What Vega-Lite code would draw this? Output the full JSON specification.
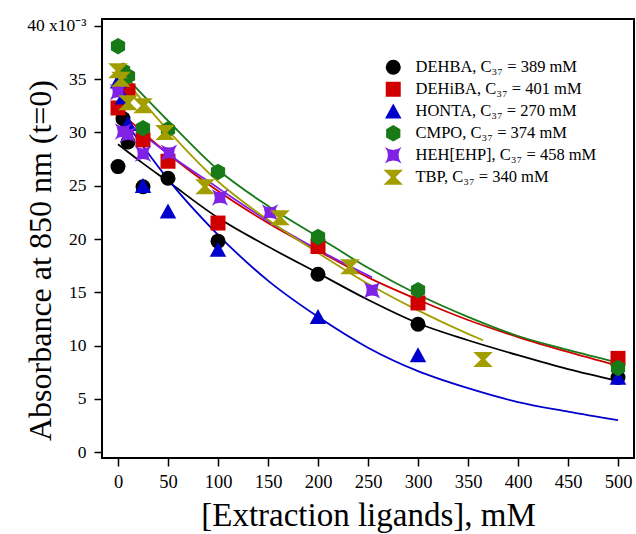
{
  "$schema": "https://vega.github.io/schema/vega-lite/v6.json",
  "autosize": {"type": "none"},
  "width": 532,
  "height": 439,
  "padding": {"left": 102, "top": 19, "right": 2, "bottom": 76},
  "background": "white",
  "config": {
    "view": {"stroke": "black", "strokeWidth": 2},
    "font": "Liberation Serif",
    "line": {"strokeWidth": 1.8, "interpolate": "monotone", "clip": true},
    "axis": {"grid": false, "domain": false, "tickColor": "black", "tickWidth": 1.5, "tickSize": 8, "labelColor": "black", "titleColor": "black", "labelFont": "Liberation Serif", "titleFont": "Liberation Serif", "titleFontWeight": "normal"}
  },
  "datasets": {
    "pts": [
      {"ligand": "DEHBA", "x": 0, "y": 26.8},
      {"ligand": "DEHBA", "x": 5, "y": 31.3},
      {"ligand": "DEHBA", "x": 10, "y": 29.1},
      {"ligand": "DEHBA", "x": 25, "y": 24.9},
      {"ligand": "DEHBA", "x": 50, "y": 25.7},
      {"ligand": "DEHBA", "x": 100, "y": 19.8},
      {"ligand": "DEHBA", "x": 200, "y": 16.7},
      {"ligand": "DEHBA", "x": 300, "y": 12.0},
      {"ligand": "DEHBA", "x": 500, "y": 7.0},
      {"ligand": "DEHiBA", "x": 0, "y": 32.3},
      {"ligand": "DEHiBA", "x": 10, "y": 33.9},
      {"ligand": "DEHiBA", "x": 25, "y": 29.3},
      {"ligand": "DEHiBA", "x": 50, "y": 27.3},
      {"ligand": "DEHiBA", "x": 100, "y": 21.5},
      {"ligand": "DEHiBA", "x": 200, "y": 19.3},
      {"ligand": "DEHiBA", "x": 300, "y": 14.0},
      {"ligand": "DEHiBA", "x": 500, "y": 8.8},
      {"ligand": "HONTA", "x": 0, "y": 34.8},
      {"ligand": "HONTA", "x": 5, "y": 33.3},
      {"ligand": "HONTA", "x": 10, "y": 30.8},
      {"ligand": "HONTA", "x": 25, "y": 25.0},
      {"ligand": "HONTA", "x": 50, "y": 22.6},
      {"ligand": "HONTA", "x": 100, "y": 19.0},
      {"ligand": "HONTA", "x": 200, "y": 12.7},
      {"ligand": "HONTA", "x": 300, "y": 9.1},
      {"ligand": "HONTA", "x": 500, "y": 7.0},
      {"ligand": "CMPO", "x": 0, "y": 38.1},
      {"ligand": "CMPO", "x": 5, "y": 35.8},
      {"ligand": "CMPO", "x": 10, "y": 35.3},
      {"ligand": "CMPO", "x": 25, "y": 30.4},
      {"ligand": "CMPO", "x": 50, "y": 30.3},
      {"ligand": "CMPO", "x": 100, "y": 26.3},
      {"ligand": "CMPO", "x": 200, "y": 20.2},
      {"ligand": "CMPO", "x": 300, "y": 15.2},
      {"ligand": "CMPO", "x": 500, "y": 7.9},
      {"ligand": "HEH[EHP]", "x": 0, "y": 33.8},
      {"ligand": "HEH[EHP]", "x": 5, "y": 30.1},
      {"ligand": "HEH[EHP]", "x": 10, "y": 29.8},
      {"ligand": "HEH[EHP]", "x": 25, "y": 28.0},
      {"ligand": "HEH[EHP]", "x": 51, "y": 28.1},
      {"ligand": "HEH[EHP]", "x": 102, "y": 23.9},
      {"ligand": "HEH[EHP]", "x": 152, "y": 22.5},
      {"ligand": "HEH[EHP]", "x": 254, "y": 15.2},
      {"ligand": "TBP", "x": 0, "y": 35.8},
      {"ligand": "TBP", "x": 3, "y": 35.0},
      {"ligand": "TBP", "x": 10, "y": 32.8},
      {"ligand": "TBP", "x": 25, "y": 32.5},
      {"ligand": "TBP", "x": 47, "y": 30.0},
      {"ligand": "TBP", "x": 87, "y": 24.9},
      {"ligand": "TBP", "x": 162, "y": 22.0},
      {"ligand": "TBP", "x": 232, "y": 17.4},
      {"ligand": "TBP", "x": 365, "y": 8.7}
    ],
    "fits": [
      {"ligand": "DEHBA", "x": 0, "y": 28.9},
      {"ligand": "DEHBA", "x": 25, "y": 27.1},
      {"ligand": "DEHBA", "x": 50, "y": 25.4},
      {"ligand": "DEHBA", "x": 100, "y": 22.0},
      {"ligand": "DEHBA", "x": 150, "y": 19.3},
      {"ligand": "DEHBA", "x": 200, "y": 16.8},
      {"ligand": "DEHBA", "x": 250, "y": 14.3},
      {"ligand": "DEHBA", "x": 300, "y": 12.1},
      {"ligand": "DEHBA", "x": 350, "y": 10.5},
      {"ligand": "DEHBA", "x": 400, "y": 9.1},
      {"ligand": "DEHBA", "x": 450, "y": 7.8},
      {"ligand": "DEHBA", "x": 500, "y": 6.7},
      {"ligand": "DEHiBA", "x": 0, "y": 32.1},
      {"ligand": "DEHiBA", "x": 25, "y": 30.0},
      {"ligand": "DEHiBA", "x": 50, "y": 28.0},
      {"ligand": "DEHiBA", "x": 100, "y": 24.5},
      {"ligand": "DEHiBA", "x": 150, "y": 21.5},
      {"ligand": "DEHiBA", "x": 200, "y": 18.9},
      {"ligand": "DEHiBA", "x": 250, "y": 16.4},
      {"ligand": "DEHiBA", "x": 300, "y": 14.3},
      {"ligand": "DEHiBA", "x": 350, "y": 12.4},
      {"ligand": "DEHiBA", "x": 400, "y": 10.8},
      {"ligand": "DEHiBA", "x": 450, "y": 9.4},
      {"ligand": "DEHiBA", "x": 500, "y": 8.1},
      {"ligand": "HONTA", "x": 0, "y": 32.0},
      {"ligand": "HONTA", "x": 25, "y": 28.7},
      {"ligand": "HONTA", "x": 50, "y": 25.6},
      {"ligand": "HONTA", "x": 100, "y": 20.4},
      {"ligand": "HONTA", "x": 150, "y": 16.1},
      {"ligand": "HONTA", "x": 200, "y": 12.7},
      {"ligand": "HONTA", "x": 250, "y": 9.8},
      {"ligand": "HONTA", "x": 300, "y": 7.6},
      {"ligand": "HONTA", "x": 350, "y": 6.0},
      {"ligand": "HONTA", "x": 400, "y": 4.7},
      {"ligand": "HONTA", "x": 450, "y": 3.8},
      {"ligand": "HONTA", "x": 500, "y": 3.0},
      {"ligand": "CMPO", "x": 2, "y": 35.8},
      {"ligand": "CMPO", "x": 25, "y": 33.5},
      {"ligand": "CMPO", "x": 50, "y": 31.1},
      {"ligand": "CMPO", "x": 100, "y": 26.5},
      {"ligand": "CMPO", "x": 150, "y": 23.1},
      {"ligand": "CMPO", "x": 200, "y": 20.2},
      {"ligand": "CMPO", "x": 250, "y": 17.3},
      {"ligand": "CMPO", "x": 300, "y": 14.8},
      {"ligand": "CMPO", "x": 350, "y": 12.7},
      {"ligand": "CMPO", "x": 400, "y": 10.9},
      {"ligand": "CMPO", "x": 450, "y": 9.6},
      {"ligand": "CMPO", "x": 500, "y": 8.4},
      {"ligand": "HEH[EHP]", "x": 0, "y": 31.6},
      {"ligand": "HEH[EHP]", "x": 25, "y": 29.8},
      {"ligand": "HEH[EHP]", "x": 50, "y": 28.0},
      {"ligand": "HEH[EHP]", "x": 100, "y": 24.8},
      {"ligand": "HEH[EHP]", "x": 150, "y": 21.7},
      {"ligand": "HEH[EHP]", "x": 200, "y": 19.0},
      {"ligand": "HEH[EHP]", "x": 254, "y": 16.4},
      {"ligand": "TBP", "x": 0, "y": 35.8},
      {"ligand": "TBP", "x": 25, "y": 32.9},
      {"ligand": "TBP", "x": 50, "y": 30.2},
      {"ligand": "TBP", "x": 100, "y": 25.4},
      {"ligand": "TBP", "x": 150, "y": 21.8},
      {"ligand": "TBP", "x": 200, "y": 18.7},
      {"ligand": "TBP", "x": 250, "y": 15.8},
      {"ligand": "TBP", "x": 300, "y": 13.3},
      {"ligand": "TBP", "x": 350, "y": 11.1},
      {"ligand": "TBP", "x": 365, "y": 10.5}
    ]
  },
  "layer": [
    {
      "data": {"name": "fits"},
      "transform": [{"filter": "datum.ligand == 'DEHBA'"}],
      "mark": {"type": "line", "color": "#000000"},
      "encoding": {"x": {"field": "x", "type": "quantitative"}, "y": {"field": "y", "type": "quantitative"}}
    },
    {
      "data": {"name": "fits"},
      "transform": [{"filter": "datum.ligand == 'DEHiBA'"}],
      "mark": {"type": "line", "color": "#d00000"},
      "encoding": {"x": {"field": "x", "type": "quantitative"}, "y": {"field": "y", "type": "quantitative"}}
    },
    {
      "data": {"name": "fits"},
      "transform": [{"filter": "datum.ligand == 'HONTA'"}],
      "mark": {"type": "line", "color": "#0000cc"},
      "encoding": {"x": {"field": "x", "type": "quantitative"}, "y": {"field": "y", "type": "quantitative"}}
    },
    {
      "data": {"name": "fits"},
      "transform": [{"filter": "datum.ligand == 'CMPO'"}],
      "mark": {"type": "line", "color": "#177a17"},
      "encoding": {"x": {"field": "x", "type": "quantitative"}, "y": {"field": "y", "type": "quantitative"}}
    },
    {
      "data": {"name": "fits"},
      "transform": [{"filter": "datum.ligand == 'HEH[EHP]'"}],
      "mark": {"type": "line", "color": "#7f22e6"},
      "encoding": {"x": {"field": "x", "type": "quantitative"}, "y": {"field": "y", "type": "quantitative"}}
    },
    {
      "data": {"name": "fits"},
      "transform": [{"filter": "datum.ligand == 'TBP'"}],
      "mark": {"type": "line", "color": "#a39e00"},
      "encoding": {"x": {"field": "x", "type": "quantitative"}, "y": {"field": "y", "type": "quantitative"}}
    },
    {
      "data": {"name": "pts"},
      "mark": {"type": "point", "filled": true, "opacity": 1, "size": 225, "strokeWidth": 0, "clip": true},
      "encoding": {
        "x": {
          "field": "x", "type": "quantitative",
          "scale": {"domain": [-16, 516], "nice": false, "zero": false},
          "axis": {"values": [0, 50, 100, 150, 200, 250, 300, 350, 400, 450, 500], "labelFontSize": 18.5, "labelPadding": 6, "title": "[Extraction ligands], mM", "titleFontSize": 33, "titleX": 266, "titleY": 41, "titleAlign": "center", "titleBaseline": "top"}
        },
        "y": {
          "field": "y", "type": "quantitative",
          "scale": {"domain": [-0.55, 40.65], "nice": false, "zero": false},
          "axis": {"values": [0, 5, 10, 15, 20, 25, 30, 35, 40], "labelFontSize": 17.5, "labelPadding": 8, "labelExpr": "datum.value == 40 ? '40 x10⁻³' : datum.label", "title": "Absorbance at 850 nm (t=0)", "titleFontSize": 32, "titleX": -62, "titleY": 241, "titleAngle": -90, "titleAlign": "center", "titleBaseline": "middle"}
        },
        "color": {
          "field": "ligand", "type": "nominal",
          "scale": {"domain": ["DEHBA", "DEHiBA", "HONTA", "CMPO", "HEH[EHP]", "TBP"], "range": ["#000000", "#d00000", "#0000cc", "#177a17", "#7f22e6", "#a39e00"]},
          "legend": {
            "title": null, "orient": "none", "legendX": 283, "legendY": 40,
            "labelFont": "Liberation Serif", "labelFontSize": 16.5, "labelColor": "black", "labelLimit": 400,
            "symbolSize": 225, "symbolStrokeWidth": 0, "labelOffset": 14, "rowPadding": 5,
            "labelExpr": "{'DEHBA': 'DEHBA, C₃₇ = 389 mM', 'DEHiBA': 'DEHiBA, C₃₇ = 401 mM', 'HONTA': 'HONTA, C₃₇ = 270 mM', 'CMPO': 'CMPO, C₃₇ = 374 mM', 'HEH[EHP]': 'HEH[EHP], C₃₇ = 458 mM', 'TBP': 'TBP, C₃₇ = 340 mM'}[datum.label]"
          }
        },
        "shape": {
          "field": "ligand", "type": "nominal",
          "scale": {"domain": ["DEHBA", "DEHiBA", "HONTA", "CMPO", "HEH[EHP]", "TBP"], "range": ["circle", "square", "M0,-1.05L1.1,0.95L-1.1,0.95Z", "M0,-1.1L0.95,-0.55L0.95,0.55L0,1.1L-0.95,0.55L-0.95,-0.55Z", "M-1.1,-1.1Q0,-0.3,1.1,-1.1Q0.3,0,1.1,1.1Q0,0.3,-1.1,1.1Q-0.3,0,-1.1,-1.1Z", "M-1.3,-1L1.3,-1L0.3,0L1.3,1L-1.3,1L-0.3,0Z"]},
          "legend": {
            "title": null, "orient": "none", "legendX": 283, "legendY": 40,
            "labelFont": "Liberation Serif", "labelFontSize": 16.5, "labelColor": "black", "labelLimit": 400,
            "symbolSize": 225, "symbolStrokeWidth": 0, "labelOffset": 14, "rowPadding": 5,
            "labelExpr": "{'DEHBA': 'DEHBA, C₃₇ = 389 mM', 'DEHiBA': 'DEHiBA, C₃₇ = 401 mM', 'HONTA': 'HONTA, C₃₇ = 270 mM', 'CMPO': 'CMPO, C₃₇ = 374 mM', 'HEH[EHP]': 'HEH[EHP], C₃₇ = 458 mM', 'TBP': 'TBP, C₃₇ = 340 mM'}[datum.label]"
          }
        }
      }
    }
  ]
}
